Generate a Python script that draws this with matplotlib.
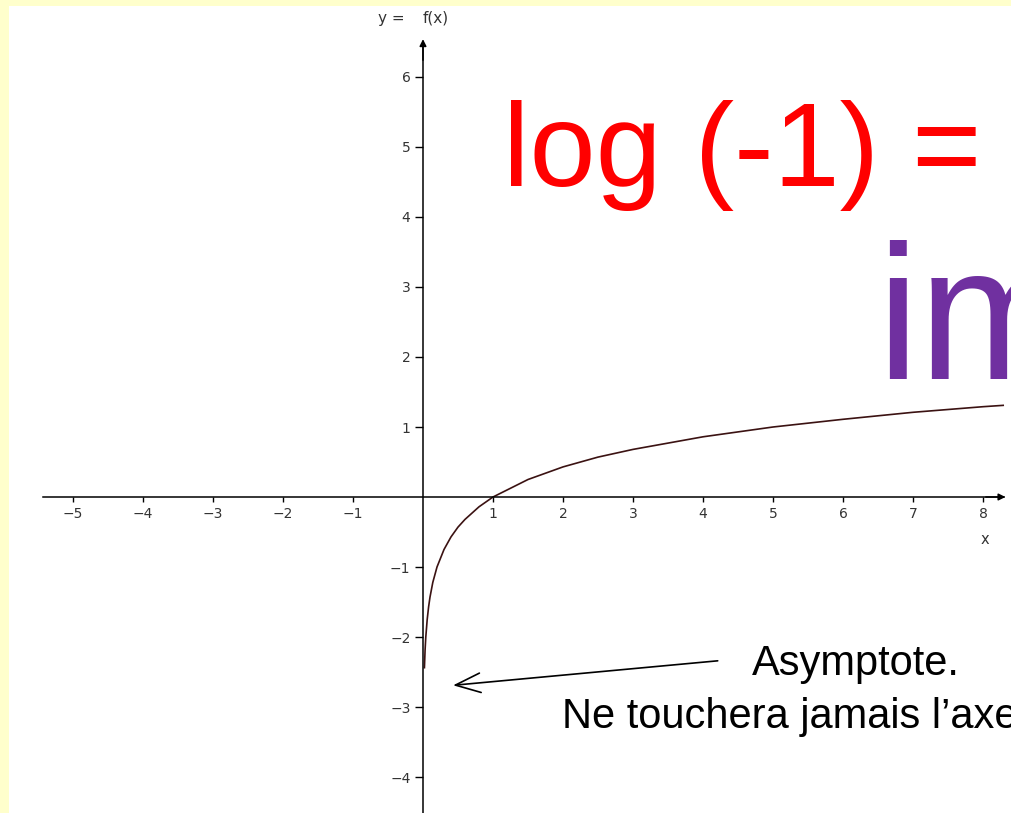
import matplotlib
matplotlib.use("Agg")
import matplotlib.pyplot as plt

# sampled points of the curve y = f(x)
curve_x = [0.02, 0.03, 0.04, 0.06, 0.08, 0.1, 0.14, 0.2, 0.3, 0.4, 0.5, 0.6,
           0.8, 1.0, 1.5, 2.0, 2.5, 3.0, 4.0, 5.0, 6.0, 7.0, 8.0, 8.3]
curve_y = [-2.45, -2.18, -2.0, -1.75, -1.57, -1.43, -1.22, -1.0, -0.75, -0.57,
           -0.43, -0.32, -0.14, 0.0, 0.25, 0.43, 0.57, 0.68, 0.86, 1.0, 1.11,
           1.21, 1.29, 1.31]

x_ticks = [-5, -4, -3, -2, -1, 1, 2, 3, 4, 5, 6, 7, 8]
y_ticks = [-4, -3, -2, -1, 1, 2, 3, 4, 5, 6]

W, H = 1012, 813


def px(x, y):
    """Pixel position -> figure fraction."""
    return x / W, 1 - y / H


def fmt(v):
    return f"\u2212{-v}" if v < 0 else str(v)


fig = plt.figure(figsize=(W / 100, H / 100), dpi=100, facecolor="#ffffcc")
ax = fig.add_axes([9 / W, 0, (W - 9) / W, (H - 6) / H], facecolor="white")
ax.set_xlim(-5.914, 8.414)
ax.set_ylim(-4.514, 7.014)

for side in ("top", "right"):
    ax.spines[side].set_visible(False)
ax.spines["left"].set_position("zero")
ax.spines["bottom"].set_position("zero")
ax.spines["bottom"].set_bounds(-5.43, 8.3)
ax.spines["left"].set_bounds(-4.514, 6.5)
for side in ("left", "bottom"):
    ax.spines[side].set_linewidth(1.1)

ax.set_xticks(x_ticks)
ax.set_xticklabels([fmt(v) for v in x_ticks])
ax.set_yticks(y_ticks)
ax.set_yticklabels([fmt(v) for v in y_ticks])
ax.tick_params(axis="x", direction="out", length=3.5, width=1, pad=4,
               labelsize=10, labelcolor="#333333")
ax.tick_params(axis="y", direction="out", length=6, width=1, pad=3,
               labelsize=10, labelcolor="#333333")

# axis arrowheads
ax.annotate("", xy=(8.36, 0), xytext=(8.0, 0),
            arrowprops=dict(arrowstyle="-|>", color="black", lw=1.1,
                            mutation_scale=10))
ax.annotate("", xy=(0, 6.58), xytext=(0, 6.2),
            arrowprops=dict(arrowstyle="-|>", color="black", lw=1.1,
                            mutation_scale=10))

ax.text(-0.64, 6.84, "y =", fontsize=11, color="#333333",
        ha="left", va="center")
ax.text(0.0, 6.84, "f(x)", fontsize=11, color="#333333",
        ha="left", va="center")
ax.text(8.03, -0.61, "x", fontsize=10.5, color="#333333",
        ha="center", va="center")

ax.plot(curve_x, curve_y, color="#3b1212", lw=1.2, solid_capstyle="butt")

# asymptote note
ax.annotate("", xy=(0.43, -2.69), xytext=(4.21, -2.34),
            arrowprops=dict(arrowstyle="->,head_length=0.9,head_width=0.35",
                            color="black", lw=1.2, mutation_scale=20,
                            shrinkA=0, shrinkB=0))

fig.text(*px(752, 675), "Asymptote.", family="Liberation Sans",
         fontsize=30, ha="left", va="baseline", color="black")
fig.text(*px(562, 728), "Ne touchera jamais l\u2019axe des y.",
         family="Liberation Sans", fontsize=30, ha="left", va="baseline",
         color="black")

fig.text(*px(503, 186), "log (-1) = ?", family="Liberation Sans",
         fontsize=85.5, ha="left", va="baseline", color="#ff0000")
fig.text(*px(876, 379), "impossible", family="Liberation Sans",
         fontsize=138, ha="left", va="baseline", color="#7030a0")

fig.savefig("out.png", dpi=100, facecolor=fig.get_facecolor())
